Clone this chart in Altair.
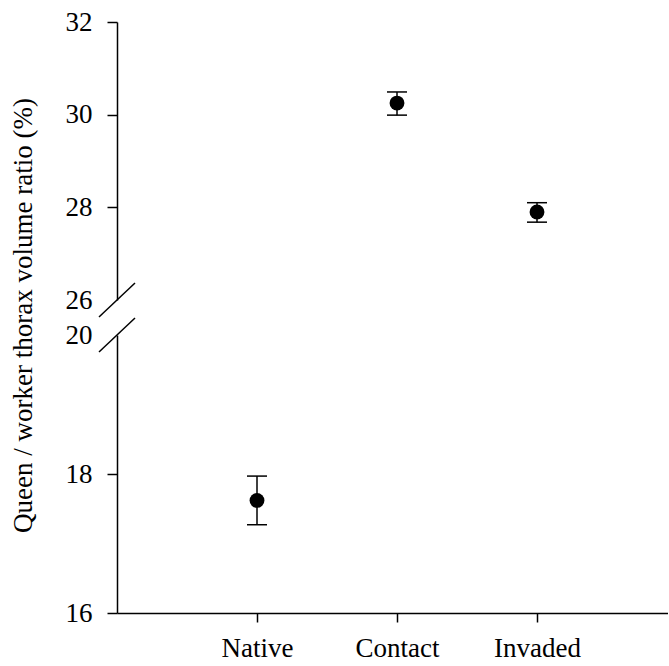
import altair as alt
import pandas as pd

# ---- data ----
sites = ["Native", "Contact", "Invaded"]
means = [17.62, 30.25, 27.90]
lows = [17.27, 29.99, 27.68]
highs = [17.97, 30.49, 28.10]

upper_ticks = [26, 28, 30, 32]
lower_ticks = [16, 18, 20]
upper_domain = [26, 32]
lower_domain = [16, 20]

df = pd.DataFrame({"site": sites, "mean": means, "low": lows, "high": highs})

FONT = "Liberation Serif"
W = 551
H = 278
STEP = 140
x_max = W / STEP

site_list_js = "[" + ",".join(f"'{s}'" for s in sites) + "]"
pos_expr = f"indexof({site_list_js}, datum.site) + 1"
label_expr = "[" + ",".join(["''"] + [f"'{s}'" for s in sites]) + "][datum.value]"


def panel(domain, ticks, hidden_tick, show_x, brk_value, title=None):
    xscale = alt.Scale(domain=[0, x_max], nice=False, zero=False)
    if show_x:
        xaxis = alt.Axis(values=[1, 2, 3], labelExpr=label_expr, title=None,
                         tickSize=9, labelPadding=13, labelAngle=0, labelFontSize=27)
    else:
        xaxis = None
    yscale = alt.Scale(domain=domain, nice=False, zero=False)
    yaxis_kw = dict(values=ticks, tickSize=10, labelPadding=15, format="d", labelFontSize=27,
                    tickOpacity={"condition": {"test": f"datum.value == {hidden_tick}", "value": 0}, "value": 1})
    if title:
        yaxis_kw.update(title=title, titleX=-80, titleY=-20, titleFont=FONT,
                        titleFontSize=27, titleFontWeight="normal", titleColor="black")
    else:
        yaxis_kw.update(title=None)
    yaxis = alt.Axis(**yaxis_kw)

    base = alt.Chart(df).transform_calculate(pos=pos_expr).transform_filter(
        f"datum.mean >= {domain[0]} && datum.mean <= {domain[1]}")
    x = alt.X("pos:Q", scale=xscale, axis=xaxis)

    err = base.mark_rule(color="black", strokeWidth=1.5).encode(
        x=x, y=alt.Y("low:Q", scale=yscale, axis=yaxis), y2="high:Q")
    cap_lo = base.mark_tick(orient="horizontal", size=20, thickness=1.5, color="black", opacity=1).encode(
        x=x, y=alt.Y("low:Q", scale=yscale))
    cap_hi = base.mark_tick(orient="horizontal", size=20, thickness=1.5, color="black", opacity=1).encode(
        x=x, y=alt.Y("high:Q", scale=yscale))
    pts = base.mark_point(filled=True, size=220, color="black", opacity=1).encode(
        x=x, y=alt.Y("mean:Q", scale=yscale))
    brk = alt.Chart(pd.DataFrame({"b": [brk_value]})).mark_rule(
        color="black", strokeWidth=1.5, xOffset=-18, yOffset=17, x2Offset=18, y2Offset=-17
    ).encode(x=alt.datum(0), x2=alt.datum(0),
             y=alt.Y("b:Q", scale=yscale), y2="b:Q")
    return alt.layer(err, cap_lo, cap_hi, pts, brk).properties(width=W, height=H)


upper = panel(upper_domain, upper_ticks, 26, False, upper_domain[0])
lower = panel(lower_domain, lower_ticks, 20, True, lower_domain[1],
              title="Queen / worker thorax volume ratio (%)")

chart = alt.vconcat(upper, lower, spacing=35, bounds="flush",
                    padding={"left": 8, "top": 8, "right": 0, "bottom": 0}
).resolve_scale(x="independent", y="independent").configure_view(stroke=None).configure_axis(
    domainColor="black", domainWidth=1.5, tickColor="black", tickWidth=1.5,
    labelColor="black", labelFont=FONT, labelFontSize=27, grid=False,
    titleFont=FONT, titleFontSize=27, titleFontWeight="normal", titleColor="black"
)

chart.save("out.html", embed_options={"renderer": "svg", "actions": False})
